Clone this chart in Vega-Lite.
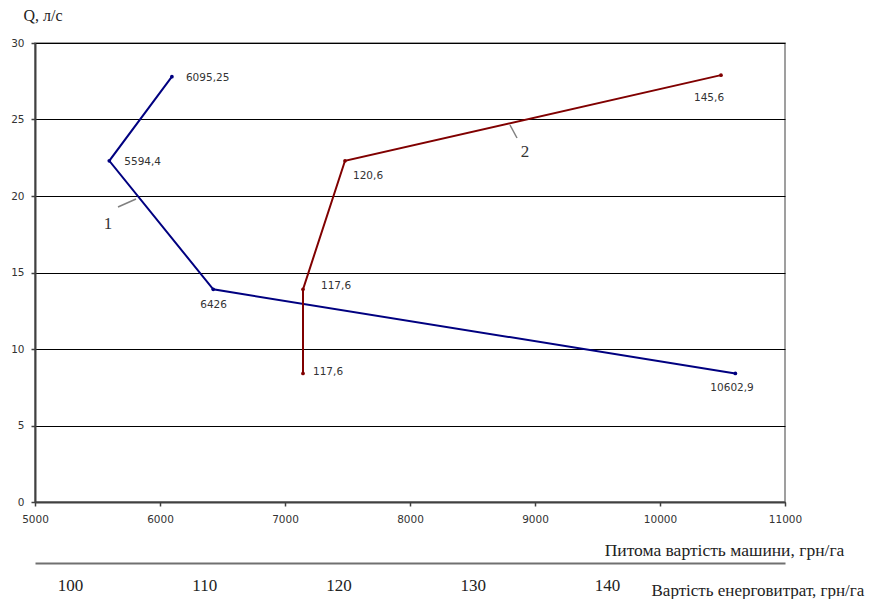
{
  "$schema": "https://vega.github.io/schema/vega-lite/v6.json",
  "width": 750,
  "height": 459,
  "autosize": "none",
  "padding": {"left": 35, "top": 43, "right": 96, "bottom": 97},
  "background": "white",
  "config": {
    "view": {"stroke": "#808080", "strokeWidth": 1.5},
    "text": {"font": "DejaVu Sans", "fontSize": 10.5, "color": "#333333"}
  },
  "datasets": {
    "series": [
      {"s": "1", "o": 1, "x": 6095.25, "y": 27.8, "lab": "6095,25"},
      {"s": "1", "o": 2, "x": 5594.4, "y": 22.3, "lab": "5594,4"},
      {"s": "1", "o": 3, "x": 6426, "y": 13.9, "lab": "6426"},
      {"s": "1", "o": 4, "x": 10602.9, "y": 8.4, "lab": "10602,9"},
      {"s": "2", "o": 1, "x": 7144, "y": 8.4, "lab": "117,6"},
      {"s": "2", "o": 2, "x": 7144, "y": 13.9, "lab": "117,6"},
      {"s": "2", "o": 3, "x": 7480, "y": 22.3, "lab": "120,6"},
      {"s": "2", "o": 4, "x": 10488, "y": 27.9, "lab": "145,6"}
    ],
    "notes": [
      {"n": "1", "x": 5584, "y": 18.2},
      {"n": "2", "x": 8920, "y": 22.9}
    ],
    "leaders": [
      {"n": "1", "x": 5664, "y": 19.28, "x2": 5808, "y2": 19.8},
      {"n": "2", "x": 8800, "y": 24.64, "x2": 8856, "y2": 23.79}
    ]
  },
  "layer": [
    {
      "layer": [
        {
          "data": {"name": "series"},
          "mark": {"type": "line", "strokeWidth": 2, "point": {"filled": true, "size": 14}},
          "encoding": {
            "x": {
              "field": "x", "type": "quantitative",
              "scale": {"domain": [5000, 11000], "nice": false, "zero": false},
              "axis": {
                "values": [5000, 6000, 7000, 8000, 9000, 10000, 11000],
                "format": "d",
                "grid": false,
                "domainColor": "#404040", "domainWidth": 2,
                "tickColor": "#404040", "tickSize": 4, "tickWidth": 1.5,
                "labelFont": "DejaVu Sans", "labelFontSize": 10.5, "labelColor": "#333333",
                "labelPadding": 8, "labelFlush": false,
                "title": "Питома вартість машини, грн/га",
                "titleFont": "Liberation Serif", "titleFontSize": 17.5, "titleFontWeight": "normal",
                "titleColor": "#222222",
                "titleX": 689, "titleY": 53, "titleAlign": "center", "titleBaseline": "alphabetic"
              }
            },
            "y": {
              "field": "y", "type": "quantitative",
              "scale": {"domain": [0, 30], "nice": false},
              "axis": {
                "values": [0, 5, 10, 15, 20, 25, 30],
                "grid": true, "gridColor": "#000000", "gridWidth": 1, "gridOpacity": 1,
                "domainColor": "#404040", "domainWidth": 2,
                "tickColor": "#404040", "tickSize": 4, "tickWidth": 1.5,
                "labelFont": "DejaVu Sans", "labelFontSize": 10.5, "labelColor": "#333333",
                "labelPadding": 7,
                "title": "Q, л/с",
                "titleFont": "Liberation Serif", "titleFontSize": 16, "titleFontWeight": "normal",
                "titleColor": "#222222", "titleAngle": 0,
                "titleX": -12, "titleY": -23, "titleAlign": "left", "titleBaseline": "alphabetic"
              }
            },
            "color": {
              "field": "s", "type": "nominal",
              "scale": {"domain": ["1", "2"], "range": ["#000080", "#800000"]},
              "legend": null
            },
            "order": {"field": "o", "type": "quantitative"}
          }
        },
        {
          "data": {"name": "leaders"},
          "mark": {"type": "rule", "color": "#808080", "strokeWidth": 1.5},
          "encoding": {
            "x": {"field": "x", "type": "quantitative"},
            "y": {"field": "y", "type": "quantitative"},
            "x2": {"field": "x2"},
            "y2": {"field": "y2"}
          }
        },
        {
          "data": {"name": "notes"},
          "mark": {"type": "text", "font": "Liberation Serif", "fontSize": 17, "color": "#333333", "align": "center", "baseline": "middle"},
          "encoding": {
            "x": {"field": "x", "type": "quantitative"},
            "y": {"field": "y", "type": "quantitative"},
            "text": {"field": "n"}
          }
        },
        {
          "data": {"name": "series"},
          "transform": [{"filter": "datum.s == '1' && datum.o == 1"}],
          "mark": {"type": "text", "align": "left", "baseline": "middle", "dx": 14, "dy": 1},
          "encoding": {"x": {"field": "x", "type": "quantitative"}, "y": {"field": "y", "type": "quantitative"}, "text": {"field": "lab"}}
        },
        {
          "data": {"name": "series"},
          "transform": [{"filter": "datum.s == '1' && datum.o == 2"}],
          "mark": {"type": "text", "align": "left", "baseline": "middle", "dx": 15, "dy": 1},
          "encoding": {"x": {"field": "x", "type": "quantitative"}, "y": {"field": "y", "type": "quantitative"}, "text": {"field": "lab"}}
        },
        {
          "data": {"name": "series"},
          "transform": [{"filter": "datum.s == '1' && datum.o == 3"}],
          "mark": {"type": "text", "align": "left", "baseline": "middle", "dx": -13, "dy": 16},
          "encoding": {"x": {"field": "x", "type": "quantitative"}, "y": {"field": "y", "type": "quantitative"}, "text": {"field": "lab"}}
        },
        {
          "data": {"name": "series"},
          "transform": [{"filter": "datum.s == '1' && datum.o == 4"}],
          "mark": {"type": "text", "align": "left", "baseline": "middle", "dx": -25, "dy": 15},
          "encoding": {"x": {"field": "x", "type": "quantitative"}, "y": {"field": "y", "type": "quantitative"}, "text": {"field": "lab"}}
        },
        {
          "data": {"name": "series"},
          "transform": [{"filter": "datum.s == '2' && datum.o == 1"}],
          "mark": {"type": "text", "align": "left", "baseline": "middle", "dx": 10, "dy": -1},
          "encoding": {"x": {"field": "x", "type": "quantitative"}, "y": {"field": "y", "type": "quantitative"}, "text": {"field": "lab"}}
        },
        {
          "data": {"name": "series"},
          "transform": [{"filter": "datum.s == '2' && datum.o == 2"}],
          "mark": {"type": "text", "align": "left", "baseline": "middle", "dx": 18, "dy": -3},
          "encoding": {"x": {"field": "x", "type": "quantitative"}, "y": {"field": "y", "type": "quantitative"}, "text": {"field": "lab"}}
        },
        {
          "data": {"name": "series"},
          "transform": [{"filter": "datum.s == '2' && datum.o == 3"}],
          "mark": {"type": "text", "align": "left", "baseline": "middle", "dx": 8, "dy": 15},
          "encoding": {"x": {"field": "x", "type": "quantitative"}, "y": {"field": "y", "type": "quantitative"}, "text": {"field": "lab"}}
        },
        {
          "data": {"name": "series"},
          "transform": [{"filter": "datum.s == '2' && datum.o == 4"}],
          "mark": {"type": "text", "align": "left", "baseline": "middle", "dx": -27, "dy": 23},
          "encoding": {"x": {"field": "x", "type": "quantitative"}, "y": {"field": "y", "type": "quantitative"}, "text": {"field": "lab"}}
        }
      ]
    },
    {
      "data": {"values": [{"e": 100}, {"e": 140}]},
      "mark": {"type": "point", "opacity": 0},
      "encoding": {
        "x": {
          "field": "e", "type": "quantitative",
          "scale": {"domain": [97.39, 153.26], "nice": false, "zero": false},
          "axis": {
            "orient": "bottom", "offset": 61,
            "values": [100, 110, 120, 130, 140],
            "grid": false, "ticks": false,
            "domainColor": "#707070", "domainWidth": 2,
            "labelFont": "Liberation Serif", "labelFontSize": 17, "labelColor": "#222222",
            "labelPadding": 14, "labelFlush": false,
            "title": "Вартість енерговитрат, грн/га",
            "titleFont": "Liberation Serif", "titleFontSize": 17, "titleFontWeight": "normal",
            "titleColor": "#222222",
            "titleX": 616, "titleY": 32, "titleAlign": "left", "titleBaseline": "alphabetic"
          }
        }
      }
    }
  ],
  "resolve": {"scale": {"x": "independent"}}
}
